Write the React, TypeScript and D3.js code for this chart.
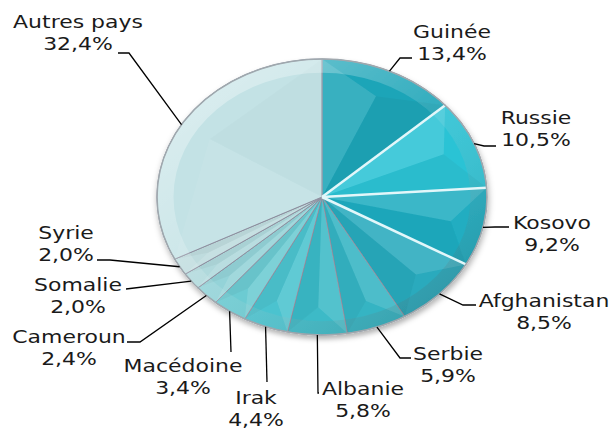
import React, { useEffect, useRef } from 'react';
import * as d3 from 'd3';

// parts des pays (%)
const countries = ['Guinée', 'Russie', 'Kosovo', 'Afghanistan', 'Serbie', 'Albanie', 'Irak', 'Macédoine', 'Cameroun', 'Somalie', 'Syrie', 'Autres pays'];
const shares = [13.4, 10.5, 9.2, 8.5, 5.9, 5.8, 4.4, 3.4, 2.4, 2.0, 2.0, 32.4];
const colors = ['#1ea5b8', '#2cc3d5', '#20adc1', '#2aaabd', '#35b4c3', '#3cbac7', '#4cc3cf', '#6ccbd2', '#94d3d8', '#b0d9dc', '#bfdcde', '#c3e2e5'];

// placement des étiquettes : centre du texte, ligne de base, coude du trait, fin du trait
const labelPos = [
  { cx: 452, y: 38, elbow: [400, 58], end: [412, 58] },
  { cx: 536, y: 124, elbow: [484, 146], end: [496, 146] },
  { cx: 552, y: 229, elbow: [495, 227], end: [509, 227] },
  { cx: 544, y: 307, elbow: [463, 305], end: [476, 305] },
  { cx: 448, y: 360, elbow: [400, 358], end: [411, 358] },
  { cx: 363, y: 395, elbow: [318, 393], end: [319, 393] },
  { cx: 256, y: 404, elbow: [267, 382], end: [267, 382] },
  { cx: 183, y: 372, elbow: [231, 352], end: [231, 352] },
  { cx: 69, y: 343, elbow: [140, 342], end: [127, 342] },
  { cx: 78, y: 291, elbow: [126, 289], end: [126, 289] },
  { cx: 66, y: 239, elbow: [110, 260], end: [97, 260] },
  { cx: 78, y: 28, elbow: [129, 53], end: [118, 53] },
];

const App = () => {
  const svgRef = useRef<SVGSVGElement>(null);

  useEffect(() => {
    const width = 614;
    const height = 430;
    const cx = 322;
    const cy = 197;
    const rx = 165;
    const ry = 138;

    const svg = d3.select(svgRef.current).attr('width', width).attr('height', height);
    svg.selectAll('*').remove();

    const defs = svg.append('defs');
    const shadow = defs.append('filter').attr('id', 'shadow').attr('x', '-20%').attr('y', '-20%').attr('width', '140%').attr('height', '140%');
    shadow.append('feDropShadow').attr('dx', 1).attr('dy', 4).attr('stdDeviation', 3).attr('flood-color', '#000').attr('flood-opacity', 0.3);

    const rimGrad = defs.append('linearGradient').attr('id', 'rim').attr('x1', 0).attr('y1', 0).attr('x2', 1).attr('y2', 1);
    rimGrad.append('stop').attr('offset', '0%').attr('stop-color', '#fff').attr('stop-opacity', 0.45);
    rimGrad.append('stop').attr('offset', '50%').attr('stop-color', '#fff').attr('stop-opacity', 0.1);
    rimGrad.append('stop').attr('offset', '100%').attr('stop-color', '#000').attr('stop-opacity', 0.18);

    const pie = d3.pie<number>().sort(null).value(d => d);
    const arcs = pie(shares);
    const arc = d3.arc<d3.PieArcDatum<number>>().innerRadius(0).outerRadius(rx);

    // le camembert est étiré : rayon horizontal rx, vertical ry
    const g = svg.append('g')
      .attr('transform', `translate(${cx}, ${cy}) scale(1, ${ry / rx})`)
      .attr('filter', 'url(#shadow)');

    g.selectAll('.slice')
      .data(arcs)
      .join('path')
      .attr('class', 'slice')
      .attr('d', arc)
      .attr('fill', (d, i) => colors[i])
      .attr('stroke', '#8e8fa0')
      .attr('stroke-width', 1)
      .attr('vector-effect', 'non-scaling-stroke');

    const pt = (a: number, r: number) => [r * Math.sin(a), -r * Math.cos(a)];

    // facettes (effet biseauté)
    arcs.forEach((d, i) => {
      const mid = (d.startAngle + d.endAngle) / 2;
      const inner = pt(mid, rx * 0.8);
      const soft = i === arcs.length - 1 ? 0.5 : 1;
      g.append('path')
        .attr('d', d3.line()([[0, 0], pt(d.startAngle, rx) as [number, number], inner as [number, number]]) + 'Z')
        .attr('fill', '#fff').attr('fill-opacity', 0.12 * soft);
      g.append('path')
        .attr('d', d3.line()([[0, 0], pt(d.endAngle, rx) as [number, number], inner as [number, number]]) + 'Z')
        .attr('fill', '#000').attr('fill-opacity', 0.035 * soft);
    });

    // bord arrondi
    g.append('path')
      .attr('d', d3.arc()({ innerRadius: rx * 0.9, outerRadius: rx, startAngle: 0, endAngle: 2 * Math.PI } as any))
      .attr('fill', 'url(#rim)');

    // séparateurs clairs entre les premières parts
    [0, 1, 2].forEach(i => {
      const p = pt(arcs[i].endAngle, rx);
      g.append('line')
        .attr('x1', 0).attr('y1', 0).attr('x2', p[0]).attr('y2', p[1])
        .attr('stroke', '#e2f7fa').attr('stroke-width', 2.5)
        .attr('vector-effect', 'non-scaling-stroke');
    });

    g.append('ellipse')
      .attr('rx', rx).attr('ry', rx)
      .attr('fill', 'none')
      .attr('stroke', '#9fa8ae')
      .attr('stroke-width', 1.5)
      .attr('vector-effect', 'non-scaling-stroke');

    // traits de rappel
    const fmt = (v: number) => d3.format('.1f')(v).replace('.', ',') + '%';
    arcs.forEach((d, i) => {
      const mid = (d.startAngle + d.endAngle) / 2;
      const anchor = [cx + rx * Math.sin(mid), cy - ry * Math.cos(mid)];
      const lp = labelPos[i];
      svg.append('path')
        .attr('d', d3.line()([anchor as [number, number], lp.elbow as [number, number], lp.end as [number, number]]))
        .attr('fill', 'none')
        .attr('stroke', '#000')
        .attr('stroke-width', 1.3);

      const t = svg.append('g')
        .attr('transform', `translate(${lp.cx}, ${lp.y}) scale(1.22, 1)`);
      t.append('text')
        .attr('text-anchor', 'middle')
        .attr('font-family', '"DejaVu Sans", Verdana, sans-serif')
        .attr('font-size', 18)
        .attr('fill', '#1a1a1a')
        .text(countries[i]);
      t.append('text')
        .attr('y', 22)
        .attr('text-anchor', 'middle')
        .attr('font-family', '"DejaVu Sans", Verdana, sans-serif')
        .attr('font-size', 18)
        .attr('fill', '#1a1a1a')
        .text(fmt(shares[i]));
    });
  }, []);

  return <svg ref={svgRef} style={{ position: 'absolute', left: 0, top: 0 }}></svg>;
};

export default App;
